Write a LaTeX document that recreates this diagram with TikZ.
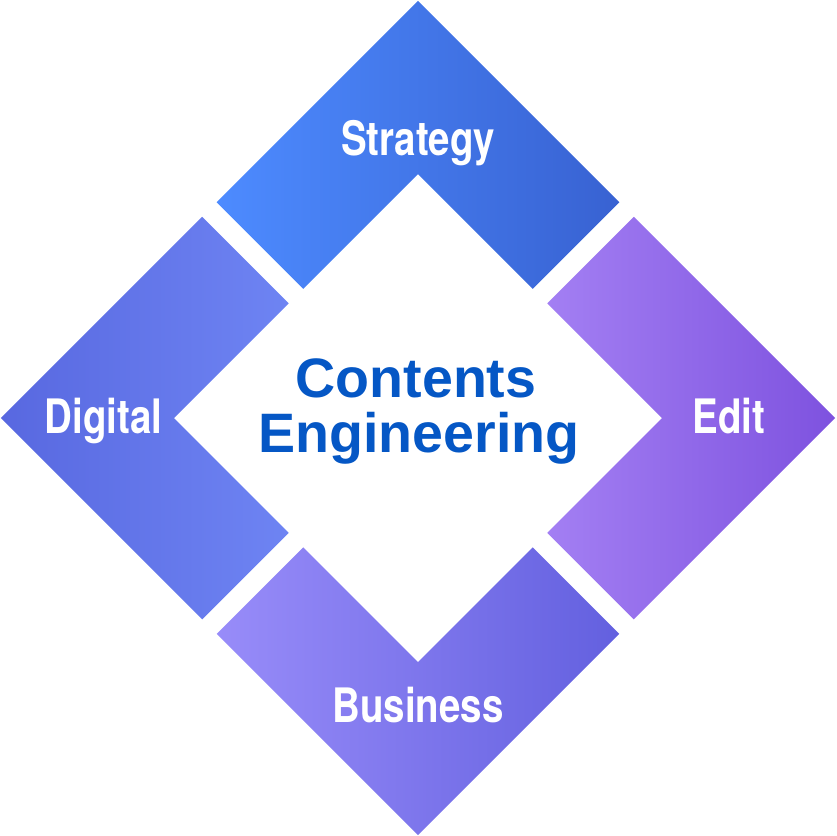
\documentclass[tikz,border=0pt]{standalone}
\usepackage{fontspec}
\setmainfont{Liberation Sans}
\newfontfamily\labelfont{TeX Gyre Heros}[FakeStretch=0.81]
\definecolor{topL}{HTML}{4D8BFF}
\definecolor{topR}{HTML}{3862D2}
\definecolor{lefL}{HTML}{5868E0}
\definecolor{lefR}{HTML}{6E84F3}
\definecolor{rigL}{HTML}{A37FF3}
\definecolor{rigR}{HTML}{7E52DF}
\definecolor{botL}{HTML}{988CF9}
\definecolor{botR}{HTML}{6360DF}
\definecolor{coreblue}{HTML}{0557C5}
\tikzset{
  armlabel/.style={text=white, font=\labelfont\bfseries\fontsize{13.5}{14}\selectfont, inner sep=0pt, anchor=base},
  coretext/.style={text=coreblue, font=\bfseries\fontsize{15.8}{16}\selectfont, inner sep=0pt, anchor=base}
}
\begin{document}
\begin{tikzpicture}[x=0.01cm,y=0.01cm]
\useasboundingbox (-418,-418) rectangle (418,418);
% top piece
\shade[left color=topL, right color=topR]
  (0,417) -- (-201.25,215.75) -- (-114.75,129.25) -- (0,244) -- (114.75,129.25) -- (201.25,215.75) -- cycle;
% left piece
\shade[left color=lefL, right color=lefR]
  (-417,0) -- (-215.75,-201.25) -- (-129.25,-114.75) -- (-244,0) -- (-129.25,114.75) -- (-215.75,201.25) -- cycle;
% bottom piece
\shade[left color=botL, right color=botR]
  (0,-417) -- (201.25,-215.75) -- (114.75,-129.25) -- (0,-244) -- (-114.75,-129.25) -- (-201.25,-215.75) -- cycle;
% right piece
\shade[left color=rigL, right color=rigR]
  (417,0) -- (215.75,201.25) -- (129.25,114.75) -- (244,0) -- (129.25,-114.75) -- (215.75,-201.25) -- cycle;
% labels
\node[armlabel] (strategy) at (0,263) {Strategy};
\node[armlabel] (digital) at (-314.5,-15) {Digital};
\node[armlabel] (edit) at (311,-15) {Edit};
\node[armlabel] (business) at (0,-304.7) {Business};
\node[coretext] (contents) at (-2,21) {Contents};
\node[coretext] (engineering) at (1,-34) {Engineering};
\end{tikzpicture}
\end{document}
